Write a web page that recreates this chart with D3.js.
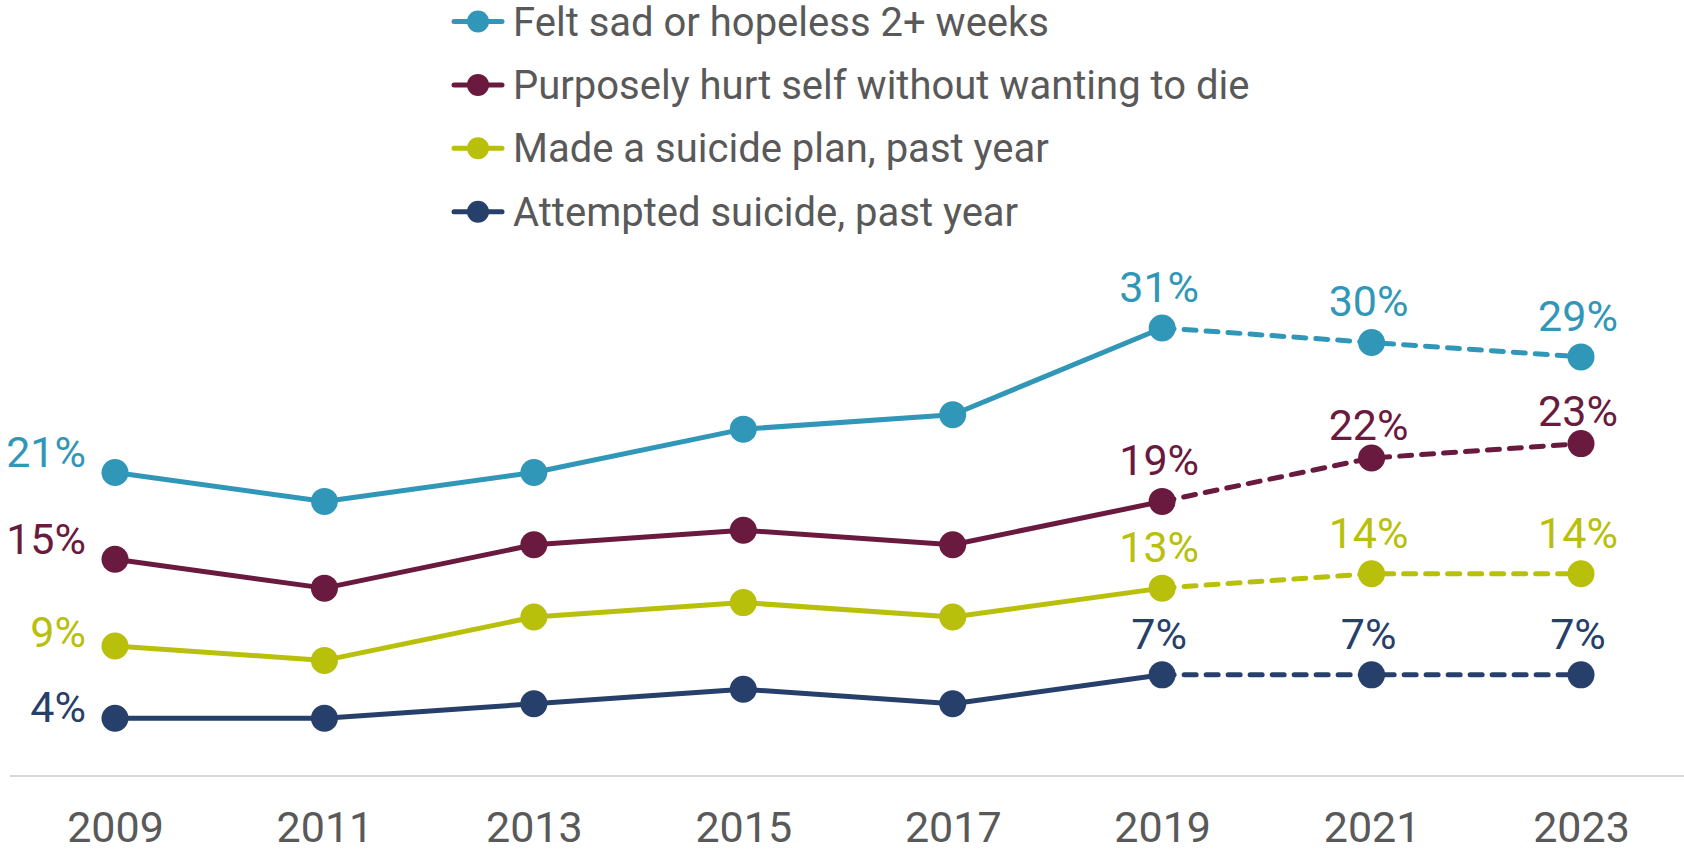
<!DOCTYPE html>
<html>
<head>
<meta charset="utf-8">
<script src="https://cdn.jsdelivr.net/npm/d3@7"></script>
<style>
  html, body { margin: 0; padding: 0; background: #ffffff; }
  svg { display: block; font-family: Roboto, "Liberation Sans", sans-serif; }
</style>
</head>
<body>
<svg id="chart" width="1684" height="851"></svg>
<script>
// Survey years
const years = [2009, 2011, 2013, 2015, 2017, 2019, 2021, 2023];

// Percent of students, by indicator
const sadHopeless   = [21, 19, 21, 24, 25, 31, 30, 29];
const hurtSelf      = [15, 13, 16, 17, 16, 19, 22, 23];
const suicidePlan   = [9, 8, 11, 12, 11, 13, 14, 14];
const attemptedSuic = [4, 4, 5, 6, 5, 7, 7, 7];

const seriesNames = [
  "Felt sad or hopeless 2+ weeks",
  "Purposely hurt self without wanting to die",
  "Made a suicide plan, past year",
  "Attempted suicide, past year"
];

// Years whose values are printed beside the points
const labeledYears = [2009, 2019, 2021, 2023];
// Last year drawn with a solid line; later years are dashed
const solidThrough = 2019;

const colors = ["#3197b8", "#6a1a3e", "#b8c00b", "#263f6b"];
const textGray = "#595959";

const series = [sadHopeless, hurtSelf, suicidePlan, attemptedSuic].map((vals, i) => ({
  name: seriesNames[i],
  color: colors[i],
  points: years.map((yr, j) => ({ year: yr, value: vals[j] }))
}));

const svg = d3.select("#chart");

const x = d3.scaleLinear().domain([2009, 2023]).range([115, 1581]);
const y = d3.scaleLinear().domain([0, 31]).range([776, 328]);

// Baseline
svg.append("line")
  .attr("x1", 10).attr("x2", 1684)
  .attr("y1", y(0)).attr("y2", y(0))
  .attr("stroke", "#d9d9d9").attr("stroke-width", 2);

// Year axis labels
const xAxis = d3.axisBottom(x)
  .tickValues(years)
  .tickFormat(d3.format("d"))
  .tickSize(0);
const axisG = svg.append("g")
  .attr("transform", `translate(0,${y(0)})`)
  .call(xAxis);
axisG.select(".domain").remove();
axisG.selectAll("text")
  .attr("y", 66).attr("dy", 0)
  .attr("fill", textGray)
  .style("font-size", "43px")
  .style("font-family", "Roboto, 'Liberation Sans', sans-serif");

const line = d3.line().x(d => x(d.year)).y(d => y(d.value));

series.forEach((s, si) => {
  const g = svg.append("g");
  const solid = s.points.filter(p => p.year <= solidThrough);
  const dashed = s.points.filter(p => p.year >= solidThrough);

  g.append("path").datum(solid)
    .attr("d", line)
    .attr("fill", "none")
    .attr("stroke", s.color)
    .attr("stroke-width", 5)
    .attr("stroke-linejoin", "round");

  g.append("path").datum(dashed)
    .attr("d", line)
    .attr("fill", "none")
    .attr("stroke", s.color)
    .attr("stroke-width", 5)
    .attr("stroke-linecap", "round")
    .attr("stroke-dasharray", "12,10");

  g.selectAll("circle").data(s.points).join("circle")
    .attr("cx", d => x(d.year))
    .attr("cy", d => y(d.value))
    .attr("r", 13.5)
    .attr("fill", s.color);

  // Value labels
  const firstYearDy = [-6, -5, 1, 4];
  g.selectAll("text.value")
    .data(s.points.filter(p => labeledYears.includes(p.year)))
    .join("text")
    .attr("class", "value")
    .attr("fill", s.color)
    .style("font-size", "43px")
    .attr("text-anchor", d => d.year === 2009 ? "end" : "middle")
    .attr("x", d => d.year === 2009 ? x(d.year) - 29 : x(d.year) - 3)
    .attr("y", d => {
      if (d.year === 2009) return y(d.value) + firstYearDy[si];
      if (si === 1 && d.year > 2019) return y(d.value) - 18;
      return y(d.value) - 26;
    })
    .text(d => d.value + "%");
});

// Legend
const legend = svg.append("g");
series.forEach((s, i) => {
  const ly = 21.5 + i * 63.4;
  const row = legend.append("g").attr("transform", `translate(0,${ly})`);
  row.append("line")
    .attr("x1", 454).attr("x2", 502)
    .attr("y1", 0).attr("y2", 0)
    .attr("stroke", s.color).attr("stroke-width", 5)
    .attr("stroke-linecap", "round");
  row.append("circle")
    .attr("cx", 478).attr("cy", 0).attr("r", 11)
    .attr("fill", s.color);
  row.append("text")
    .attr("x", 513).attr("y", 14)
    .attr("fill", textGray)
    .style("font-size", "40px")
    .text(s.name);
});
</script>
</body>
</html>
